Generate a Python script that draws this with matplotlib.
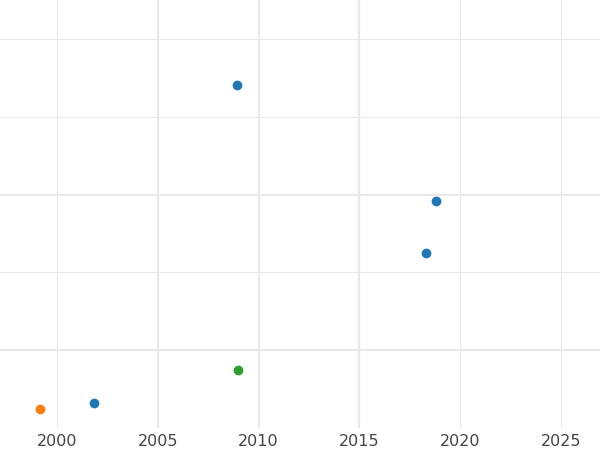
import matplotlib
matplotlib.use("Agg")
import matplotlib.pyplot as plt

blue_x = [2008.93, 2018.8, 2018.3, 2001.84]
blue_y = [4.41, 2.92, 2.25, 0.32]
orange_x = [1999.16]
orange_y = [0.24]
green_x = [2008.98]
green_y = [0.74]
xticks = [2000, 2005, 2010, 2015, 2020, 2025]

fig = plt.figure(figsize=(6, 4.5), dpi=100)
ax = fig.add_axes([0, 0.049, 1, 0.951])
ax.set_xlim(1997.17, 2026.93)
ax.set_ylim(0.0, 5.5)
for x in xticks:
    lw = 1.6 if x in (2005, 2010, 2015) else 0.8
    ax.axvline(x, color='#e8e8e8', lw=lw, zorder=0)
for y in [1, 2, 3, 4, 5]:
    lw = 1.4 if y in (1, 3) else 0.8
    ax.axhline(y, color='#e8e8e8', lw=lw, zorder=0)
ax.scatter(blue_x, blue_y, color='#1f77b4', s=36, zorder=3)
ax.scatter(orange_x, orange_y, color='#ff7f0e', s=36, zorder=3)
ax.scatter(green_x, green_y, color='#2ca02c', s=36, zorder=3)
ax.set_xticks(xticks)
ax.set_xticklabels([str(x) for x in xticks], color='#444444', fontsize=11.5)
ax.set_yticks([])
ax.tick_params(axis='x', length=0, pad=4)
for s in ax.spines.values():
    s.set_visible(False)
fig.savefig("out.png", dpi=100)
